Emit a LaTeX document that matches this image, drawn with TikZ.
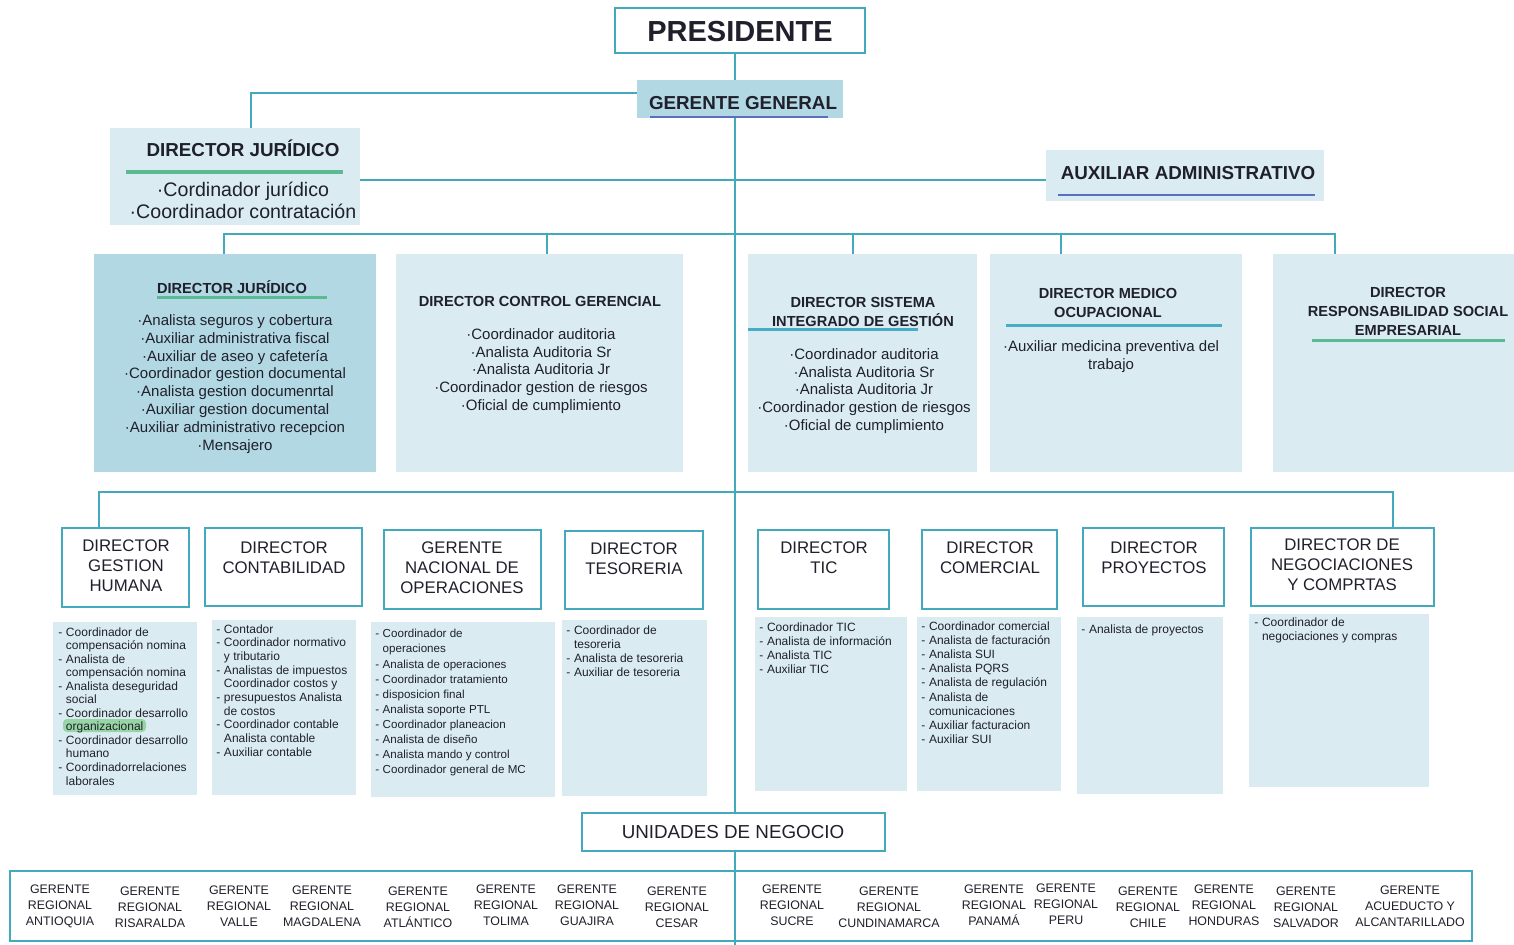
\documentclass[tikz,border=0pt]{standalone}
\usepackage{fontspec}
\setmainfont{Liberation Sans}
\usetikzlibrary{fit}
\definecolor{lineTeal}{RGB}{66,170,188}
\definecolor{boxLite}{RGB}{218,236,242}
\definecolor{boxDark}{RGB}{178,216,227}
\definecolor{ink}{RGB}{32,32,44}
\definecolor{ulGreen}{RGB}{92,186,146}
\definecolor{ulTeal}{RGB}{72,172,200}
\definecolor{ulBlue}{RGB}{92,110,192}
\newcommand{\dl}{-\hspace{0.3em}}
\newcommand{\ind}{\hphantom{-\hspace{0.3em}}}

\begin{document}
\begin{tikzpicture}[x=0.5pt,y=-0.5pt]
	\tikzstyle{connStyle}=[draw=lineTeal, line width=1pt]
	\tikzstyle{frameStyle}=[draw=lineTeal, line width=1pt, fill=white, inner sep=0pt]
	\tikzstyle{liteStyle}=[fill=boxLite, inner sep=0pt]
	\tikzstyle{darkStyle}=[fill=boxDark, inner sep=0pt]
	\tikzstyle{bigHeadStyle}=[font=\bfseries\fontsize{9.4}{11}\selectfont, text=ink, inner sep=0pt]
	\tikzstyle{headStyle}=[font=\bfseries\fontsize{7.3}{9.5}\selectfont, text=ink, align=center, inner sep=0pt]
	\tikzstyle{itemStyle}=[font=\fontsize{7.5}{8.9}\selectfont, text=ink, align=center, inner sep=0pt]
	\tikzstyle{unitStyle}=[font=\fontsize{8.4}{10}\selectfont, text=ink, align=center, inner sep=0pt]
	\tikzstyle{listStyle}=[font=\fontsize{6.1}{7}\selectfont, text=ink, align=left, anchor=north west, inner sep=0pt]
	\tikzstyle{regStyle}=[font=\fontsize{6.2}{8}\selectfont, text=ink, align=center, inner sep=0pt]
	\tikzstyle{ulStyle}=[line width=1.5pt]
	\useasboundingbox (0,0) rectangle (1514,945);
	\node[frameStyle, fit={(615,8) (865,53)}] (pres) {};
	\node[font=\bfseries\fontsize{14.5}{16}\selectfont, text=ink, inner sep=0pt] (presT) at (740,32) {PRESIDENTE};
	\node[darkStyle, fit={(637,80) (843,118)}] (ger) {};
	\node[bigHeadStyle] (gerT) at (743,103) {GERENTE GENERAL};
	\draw[ulStyle, ulBlue, line width=1.2pt] (650,117) -- (828,117);
	\node[liteStyle, fit={(110,128) (360,225)}] (jur1) {};
	\node[bigHeadStyle] (jur1T) at (243,148) {DIRECTOR JURÍDICO};
	\draw[ulStyle, ulGreen, line width=2pt] (126,172) -- (343,172);
	\node[itemStyle, font=\fontsize{9.8}{11}\selectfont] (jur1I) at (243,200) {·Cordinador jurídico\\·Coordinador contratación};
	\node[liteStyle, fit={(1046,150) (1324,201)}] (aux) {};
	\node[bigHeadStyle] (auxT) at (1188,173) {AUXILIAR ADMINISTRATIVO};
	\draw[ulStyle, ulBlue, line width=1.2pt] (1058,195) -- (1315,195);
	\node[darkStyle, fit={(94,254) (376,472)}] (jur2) {};
	\node[headStyle] (jur2T) at (232,287) {DIRECTOR JURÍDICO};
	\draw[ulStyle, ulGreen] (157,298) -- (327,298);
	\node[itemStyle] (jur2I) at (235,384) {·Analista seguros y cobertura\\·Auxiliar administrativa fiscal\\·Auxiliar de aseo y cafetería\\·Coordinador gestion documental\\·Analista gestion documenrtal\\·Auxiliar gestion documental\\·Auxiliar administrativo recepcion\\·Mensajero};
	\node[liteStyle, fit={(396,254) (683,472)}] (ctrl) {};
	\node[headStyle] (ctrlT) at (540,301) {DIRECTOR CONTROL GERENCIAL};
	\node[itemStyle] (ctrlI) at (541,371) {·Coordinador auditoria\\·Analista Auditoria Sr\\·Analista Auditoria Jr\\·Coordinador gestion de riesgos\\·Oficial de cumplimiento};
	\node[liteStyle, fit={(748,254) (977,472)}] (sig) {};
	\node[headStyle] (sigT) at (863,312) {DIRECTOR SISTEMA\\INTEGRADO DE GESTIÓN};
	\draw[ulStyle, ulTeal] (748,330) -- (918,330);
	\node[itemStyle] (sigI) at (864,391) {·Coordinador auditoria\\·Analista Auditoria Sr\\·Analista Auditoria Jr\\·Coordinador gestion de riesgos\\·Oficial de cumplimiento};
	\node[liteStyle, fit={(990,254) (1242,472)}] (med) {};
	\node[headStyle] (medT) at (1108,303) {DIRECTOR MEDICO\\OCUPACIONAL};
	\draw[ulStyle, ulTeal] (1006,326) -- (1222,326);
	\node[itemStyle] (medI) at (1111,357) {·Auxiliar medicina preventiva del\\trabajo};
	\node[liteStyle, fit={(1273,254) (1514,472)}] (rse) {};
	\node[headStyle] (rseT) at (1408,311) {DIRECTOR\\RESPONSABILIDAD SOCIAL\\EMPRESARIAL};
	\draw[ulStyle, ulGreen] (1312,341) -- (1505,341);
	\node[frameStyle, fit={(62,528) (189,607)}] (ghum) {};
	\node[unitStyle] (ghumT) at (126,566) {DIRECTOR\\GESTION\\HUMANA};
	\node[frameStyle, fit={(205,528) (362,606)}] (cont) {};
	\node[unitStyle] (contT) at (284,558) {DIRECTOR\\CONTABILIDAD};
	\node[frameStyle, fit={(384,530) (541,609)}] (ops) {};
	\node[unitStyle] (opsT) at (462,568) {GERENTE\\NACIONAL DE\\OPERACIONES};
	\node[frameStyle, fit={(565,531) (703,609)}] (tes) {};
	\node[unitStyle] (tesT) at (634,559) {DIRECTOR\\TESORERIA};
	\node[frameStyle, fit={(758,530) (889,609)}] (tic) {};
	\node[unitStyle] (ticT) at (824,558) {DIRECTOR\\TIC};
	\node[frameStyle, fit={(922,530) (1057,609)}] (com) {};
	\node[unitStyle] (comT) at (990,558) {DIRECTOR\\COMERCIAL};
	\node[frameStyle, fit={(1083,528) (1224,606)}] (pro) {};
	\node[unitStyle] (proT) at (1154,558) {DIRECTOR\\PROYECTOS};
	\node[frameStyle, fit={(1251,528) (1434,606)}] (neg) {};
	\node[unitStyle] (negT) at (1342,565) {DIRECTOR DE\\NEGOCIACIONES\\Y COMPRTAS};
	\node[liteStyle, fit={(53,622) (197,795)}] (ghL) {};
	\fill[green!45!gray, opacity=0.45, rounded corners=2pt] (63,719) rectangle (146,732);
	\node[listStyle, font=\fontsize{6}{6.77}\selectfont] (ghI) at (58,627) {\dl Coordinador de\\\ind compensación nomina\\\dl Analista de\\\ind compensación nomina\\\dl Analista deseguridad\\\ind social\\\dl Coordinador desarrollo\\\ind organizacional\\\dl Coordinador desarrollo\\\ind humano\\\dl Coordinadorrelaciones\\\ind laborales};
	\node[liteStyle, fit={(212,620) (356,795)}] (contL) {};
	\node[listStyle, font=\fontsize{6}{6.85}\selectfont] (contI) at (216,624) {\dl Contador\\\dl Coordinador normativo\\\ind y tributario\\\dl Analistas de impuestos\\\ind Coordinador costos y\\\dl presupuestos Analista\\\ind de costos\\\dl Coordinador contable\\\ind Analista contable\\\dl Auxiliar contable};
	\node[liteStyle, fit={(371,622) (555,797)}] (opsL) {};
	\node[listStyle, font=\fontsize{5.8}{7.55}\selectfont] (opsI) at (375,629) {\dl Coordinador de\\\ind operaciones\\\dl Analista de operaciones\\\dl Coordinador tratamiento\\\dl disposicion final\\\dl Analista soporte PTL\\\dl Coordinador planeacion\\\dl Analista de diseño\\\dl Analista mando y control\\\dl Coordinador general de MC};
	\node[liteStyle, fit={(562,620) (707,796)}] (tesL) {};
	\node[listStyle, font=\fontsize{6}{7.15}\selectfont] (tesI) at (566,625) {\dl Coordinador de\\\ind tesoreria\\\dl Analista de tesoreria\\\dl Auxiliar de tesoreria};
	\node[liteStyle, fit={(755,617) (907,791)}] (ticL) {};
	\node[listStyle, font=\fontsize{6}{7.15}\selectfont] (ticI) at (759,622) {\dl Coordinador TIC\\\dl Analista de información\\\dl Analista TIC\\\dl Auxiliar TIC};
	\node[liteStyle, fit={(917,617) (1061,791)}] (comL) {};
	\node[listStyle, font=\fontsize{6}{7.1}\selectfont] (comI) at (921,621) {\dl Coordinador comercial\\\dl Analista de facturación\\\dl Analista SUI\\\dl Analista PQRS\\\dl Analista de regulación\\\dl Analista de\\\ind comunicaciones\\\dl Auxiliar facturacion\\\dl Auxiliar SUI};
	\node[liteStyle, fit={(1077,617) (1223,794)}] (proL) {};
	\node[listStyle, font=\fontsize{6}{7.1}\selectfont] (proI) at (1081,624) {\dl Analista de proyectos};
	\node[liteStyle, fit={(1249,614) (1429,787)}] (negL) {};
	\node[listStyle, font=\fontsize{6}{7.1}\selectfont] (negI) at (1254,617) {\dl Coordinador de\\\ind negociaciones y compras};
	\node[frameStyle, fit={(582,813) (885,851)}] (uni) {};
	\node[unitStyle, font=\fontsize{9.4}{11}\selectfont] (uniT) at (733,832) {UNIDADES DE NEGOCIO};
	\node[frameStyle, line width=1.4pt, fit={(10,871) (1472,941)}] (reg) {};
	\node[regStyle] (rAnt) at (60,906) {GERENTE\\REGIONAL\\ANTIOQUIA};
	\node[regStyle] (rRis) at (150,907) {GERENTE\\REGIONAL\\RISARALDA};
	\node[regStyle] (rVal) at (239,906) {GERENTE\\REGIONAL\\VALLE};
	\node[regStyle] (rMag) at (322,906) {GERENTE\\REGIONAL\\MAGDALENA};
	\node[regStyle] (rAtl) at (418,907) {GERENTE\\REGIONAL\\ATLÁNTICO};
	\node[regStyle] (rTol) at (506,905) {GERENTE\\REGIONAL\\TOLIMA};
	\node[regStyle] (rGua) at (587,905) {GERENTE\\REGIONAL\\GUAJIRA};
	\node[regStyle] (rCes) at (677,907) {GERENTE\\REGIONAL\\CESAR};
	\node[regStyle] (rSuc) at (792,905) {GERENTE\\REGIONAL\\SUCRE};
	\node[regStyle] (rCun) at (889,907) {GERENTE\\REGIONAL\\CUNDINAMARCA};
	\node[regStyle] (rPan) at (994,905) {GERENTE\\REGIONAL\\PANAMÁ};
	\node[regStyle] (rPer) at (1066,904) {GERENTE\\REGIONAL\\PERU};
	\node[regStyle] (rChi) at (1148,907) {GERENTE\\REGIONAL\\CHILE};
	\node[regStyle] (rHon) at (1224,905) {GERENTE\\REGIONAL\\HONDURAS};
	\node[regStyle] (rSal) at (1306,907) {GERENTE\\REGIONAL\\SALVADOR};
	\node[regStyle] (rAcu) at (1410,906) {GERENTE\\ACUEDUCTO Y\\ALCANTARILLADO};
	\coordinate (sp) at (735,0);
	\coordinate (h1) at (735,180);
	\coordinate (b1) at (735,234);
	\coordinate (b2) at (735,492);
	\coordinate (sbot) at (735,945);
	\draw[connStyle] (pres.south -| sp) -- (ger.north -| sp);
	\draw[connStyle] (ger.south -| sp) -- (uni.north -| sp);
	\draw[connStyle] (uni.south -| sp) -- (reg.north -| sp) -- (sbot);
	\draw[connStyle] ([yshift=3pt]ger.west) -| ([xshift=8pt]jur1.north);
	\draw[connStyle] (jur1.east |- h1) -- (aux.west |- h1);
	\draw[connStyle] ([xshift=-5.5pt]jur2.north) |- (b1) -| ([xshift=-29.25pt]rse.north);
	\draw[connStyle] ([xshift=3.75pt]ctrl.north) -- ([xshift=3.75pt]ctrl.north |- b1);
	\draw[connStyle] ([xshift=-4.75pt]sig.north) -- ([xshift=-4.75pt]sig.north |- b1);
	\draw[connStyle] ([xshift=-27.5pt]med.north) -- ([xshift=-27.5pt]med.north |- b1);
	\draw[connStyle] ([xshift=-13.25pt]ghum.north) |- (b2) -| ([xshift=25.25pt]neg.north);
\end{tikzpicture}
\end{document}
